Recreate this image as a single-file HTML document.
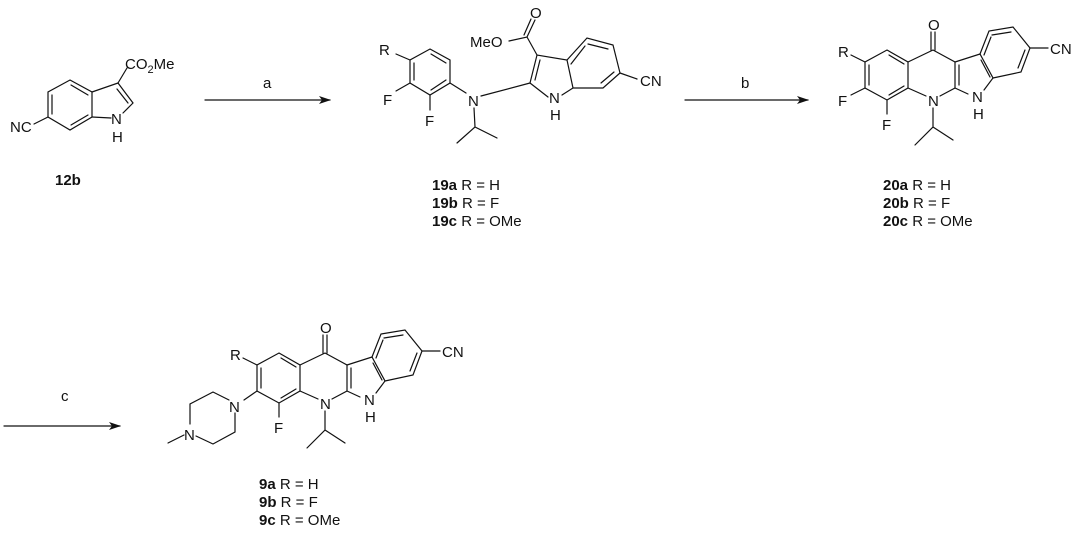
<!DOCTYPE html>
<html><head><meta charset="utf-8"><style>
html,body{margin:0;padding:0;background:#fff}
svg{display:block}
text{font-family:"Liberation Sans",sans-serif;fill:#111}
.a{font-size:15px}
.l{font-size:15px}
</style></head><body>
<svg width="1080" height="535" viewBox="0 0 1080 535" xmlns="http://www.w3.org/2000/svg">
<defs>
<marker id="ah" markerWidth="12" markerHeight="8" refX="11" refY="4" orient="auto" markerUnits="userSpaceOnUse">
<path d="M0,0 L12,4 L0,8 L3,4 Z" fill="#111"/></marker>
<g id="core">
<path d="M887,50 L908,62 L908,88 L887,100 L865,88 L865,62 Z"/>
<path d="M869,65 L869,85 M889,55 L904,64 M889,95 L904,86"/>
<path d="M908,62 L933,50 L955,62 L955,88 L940,96 M926,96 L908,88"/>
<path d="M959,65 L959,85"/>
<path d="M931,50 L931,32 M935,50 L935,32"/>
<path d="M955,62 L980,54 L993,78 L984,90 M968,94 L955,88"/>
<path d="M981,60 L990,77"/>
<path d="M980,54 L989,31 L1013,27 L1030,48 L1021,72 L993,78"/>
<path d="M992,35 L1011,32 M1025,50 L1018,68 M984,55 L991,37"/>
<path d="M1030,48 L1048,48"/>
<path d="M933,108 L933,127 L915,145 M933,127 L953,140"/>
<path d="M865,62 L851,55"/>
<path d="M887,100 L887,114"/>
</g>
</defs>
<g stroke="#111" stroke-width="1.2" fill="none" stroke-linecap="round">
<line x1="205" y1="100" x2="330" y2="100" marker-end="url(#ah)"/>
<line x1="685" y1="100" x2="808" y2="100" marker-end="url(#ah)"/>
<line x1="4" y1="426" x2="120" y2="426" marker-end="url(#ah)"/>

<path d="M70,80 L92,92 L92,117 L70,130 L48,117 L48,92 Z"/>
<path d="M71,85 L88,95 M52,95 L52,114 M71,125 L88,115"/>
<path d="M92,92 L118,83 L133,103 L123,113 M111,118 L92,117"/>
<path d="M117,89 L128,103"/>
<path d="M118,83 L127,68"/>
<path d="M48,117 L34,124"/>

<path d="M430,49 L450,60 L450,83 L430,95 L410,83 L410,60 Z"/>
<path d="M431,54 L446,63 M414,63 L414,80 M431,90 L446,80"/>
<path d="M410,60 L396,54 M410,83 L396,91 M430,95 L430,110"/>
<path d="M450,83 L466,93 M481,96 L530,83"/>
<path d="M474,108 L475,127 L457,143 M475,127 L497,138"/>
<path d="M530,83 L537,55 L567,60 L573,88 L562,95 M548,97 L530,83"/>
<path d="M535,80 L540,60"/>
<path d="M567,60 L587,38 L613,45 L620,73 L603,88 L573,88"/>
<path d="M588,44 L608,49 M614,72 L601,83 M571,64 L585,46"/>
<path d="M620,73 L637,79"/>
<path d="M537,55 L527,37 L509,41 M527,37 L535,20 M524,35 L531,19"/>

<use href="#core"/>
<path d="M865,88 L851,95"/>

<use href="#core" transform="translate(-608,303)"/>
<path d="M257,391 L244,400"/>
<path d="M229,400 L213,392 L190,404 L190,424 M196,436 L213,444 L235,432 L235,413"/>
<path d="M184,435 L168,443"/>
</g>

<g class="a">
<text x="10" y="132">NC</text>
<text x="125" y="69">CO<tspan font-size="11" dy="4">2</tspan><tspan dy="-4">Me</tspan></text>
<text x="111" y="124">N</text>
<text x="112" y="142">H</text>

<text x="379" y="55">R</text>
<text x="383" y="105">F</text>
<text x="425" y="126">F</text>
<text x="468" y="106">N</text>
<text x="549" y="103">N</text>
<text x="550" y="120">H</text>
<text x="470" y="47">MeO</text>
<text x="530" y="18">O</text>
<text x="640" y="86">CN</text>

<text x="838" y="57">R</text>
<text x="838" y="106">F</text>
<text x="882" y="130">F</text>
<text x="928" y="106">N</text>
<text x="928" y="30">O</text>
<text x="972" y="102">N</text>
<text x="973" y="119">H</text>
<text x="1050" y="54">CN</text>

<text x="230" y="360">R</text>
<text x="274" y="433">F</text>
<text x="320" y="409">N</text>
<text x="320" y="333">O</text>
<text x="364" y="405">N</text>
<text x="365" y="422">H</text>
<text x="442" y="357">CN</text>
<text x="229" y="412">N</text>
<text x="184" y="440">N</text>

<text x="263" y="88">a</text>
<text x="741" y="88">b</text>
<text x="61" y="401">c</text>
</g>

<g class="l">
<text x="55" y="185" font-weight="bold">12b</text>
<text x="432" y="190"><tspan font-weight="bold">19a</tspan> R = H</text>
<text x="432" y="208"><tspan font-weight="bold">19b</tspan> R = F</text>
<text x="432" y="226"><tspan font-weight="bold">19c</tspan> R = OMe</text>
<text x="883" y="190"><tspan font-weight="bold">20a</tspan> R = H</text>
<text x="883" y="208"><tspan font-weight="bold">20b</tspan> R = F</text>
<text x="883" y="226"><tspan font-weight="bold">20c</tspan> R = OMe</text>
<text x="259" y="489"><tspan font-weight="bold">9a</tspan> R = H</text>
<text x="259" y="507"><tspan font-weight="bold">9b</tspan> R = F</text>
<text x="259" y="525"><tspan font-weight="bold">9c</tspan> R = OMe</text>
</g>
</svg>
</body></html>
